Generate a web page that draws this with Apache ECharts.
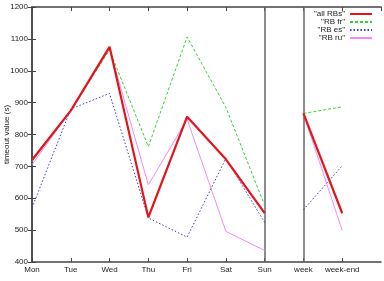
<!DOCTYPE html>
<html>
<head>
<meta charset="utf-8">
<script src="https://cdn.jsdelivr.net/npm/echarts@6/dist/echarts.min.js"></script>
<style>
  html, body { margin: 0; padding: 0; background: #fff; }
  #chart-wrapper { width: 384px; height: 281px; }
</style>
</head>
<body>
<div id="chart-wrapper"></div>
<script>
const days = ['Mon', 'Tue', 'Wed', 'Thu', 'Fri', 'Sat', 'Sun', 'week', 'week-end']
const yTicks = [400, 500, 600, 700, 800, 900, 1000, 1100, 1200]

const allRBs = [720, 875, 1075, 540, 856, 722, 553, 866, 553]
const rbFr = [715, 875, 1065, 762, 1106, 885, 578, 866, 887]
const rbEs = [570, 880, 929, 538, 478, 725, 524, 564, 702]
const rbRu = [705, 875, 1070, 642, 848, 496, 436, 865, 499]

const lines = [
  { name: 'all RBs', values: allRBs, color: '#e3141c', width: 2.2, type: 'solid' },
  { name: 'RB fr', values: rbFr, color: '#2bd92b', width: 1, type: [3, 2] },
  { name: 'RB es', values: rbEs, color: '#3b3bc8', width: 1, type: [1.5, 2] },
  { name: 'RB ru', values: rbRu, color: '#f08cf0', width: 1, type: 'solid' }
]

const font = 'Liberation Sans, Arial, sans-serif'
const axisColor = '#444'

// days before the split go in one segment, week / week-end in another
const splitAt = days.indexOf('week')

const series = []
lines.forEach((l, k) => {
  const pts = l.values.map((v, i) => [i, v])
  const segs = [pts.slice(0, splitAt), pts.slice(splitAt)]
  segs.forEach((seg, s) => {
    const item = {
      type: 'line',
      name: l.name,
      data: seg,
      symbol: 'none',
      color: l.color,
      z: 10 - k,
      lineStyle: { color: l.color, width: l.width, type: l.type },
      animation: false
    }
    if (k === 0 && s === 0) {
      item.markLine = {
        silent: true,
        symbol: 'none',
        label: { show: false },
        lineStyle: { color: '#666', width: 1.5, type: 'solid' },
        data: [{ xAxis: splitAt - 1 }, { xAxis: splitAt }],
        animation: false
      }
    }
    series.push(item)
  })
})

const chartDom = document.getElementById('chart-wrapper')
const chart = echarts.init(chartDom)

const option = {
  backgroundColor: '#fff',
  textStyle: { fontFamily: font },
  grid: { left: 32, right: 3, top: 7, bottom: 19, containLabel: false, outerBoundsMode: 'none' },
  legend: {
    orient: 'vertical',
    right: 11,
    top: 10,
    align: 'right',
    itemWidth: 22,
    itemHeight: 6,
    itemGap: 0,
    padding: 0,
    data: lines.map(l => l.name),
    formatter: n => `"${n}"`,
    itemStyle: { color: 'transparent', borderColor: 'transparent', borderWidth: 0 },
    textStyle: { fontSize: 8, lineHeight: 8, color: '#222', fontFamily: font }
  },
  xAxis: [
    {
      type: 'value',
      min: 0,
      max: days.length,
      interval: 1,
      splitLine: { show: false },
      axisLine: { lineStyle: { color: axisColor, width: 1.5 } },
      axisTick: { inside: true, length: 4, lineStyle: { color: axisColor } },
      axisLabel: {
        fontSize: 8,
        color: '#222',
        margin: 4,
        showMaxLabel: false,
        formatter: v => (Number.isInteger(v) && days[v]) ? days[v] : ''
      }
    },
    {
      type: 'value',
      position: 'top',
      min: 0,
      max: days.length,
      interval: 1,
      splitLine: { show: false },
      axisLine: { lineStyle: { color: axisColor, width: 1.5 } },
      axisTick: { inside: true, length: 4, lineStyle: { color: axisColor } },
      axisLabel: { show: false }
    }
  ],
  yAxis: [
    {
      type: 'value',
      min: yTicks[0],
      max: yTicks[yTicks.length - 1],
      interval: 100,
      name: 'timeout value (s)',
      nameLocation: 'middle',
      nameGap: 21,
      nameMoveOverlap: false,
      nameTextStyle: { fontSize: 8, color: '#222' },
      splitLine: { show: false },
      axisLine: { show: true, lineStyle: { color: axisColor, width: 1.5 } },
      axisTick: { show: true, inside: true, length: 4, lineStyle: { color: axisColor } },
      axisLabel: { fontSize: 8, color: '#222', margin: 4, formatter: v => String(v) }
    },
    {
      type: 'value',
      position: 'right',
      min: yTicks[0],
      max: yTicks[yTicks.length - 1],
      interval: 100,
      splitLine: { show: false },
      axisLine: { show: true, lineStyle: { color: axisColor, width: 1.5 } },
      axisTick: { show: true, inside: true, length: 4, lineStyle: { color: axisColor } },
      axisLabel: { show: false }
    }
  ],
  series: series
}

chart.setOption(option)
</script>
</body>
</html>
